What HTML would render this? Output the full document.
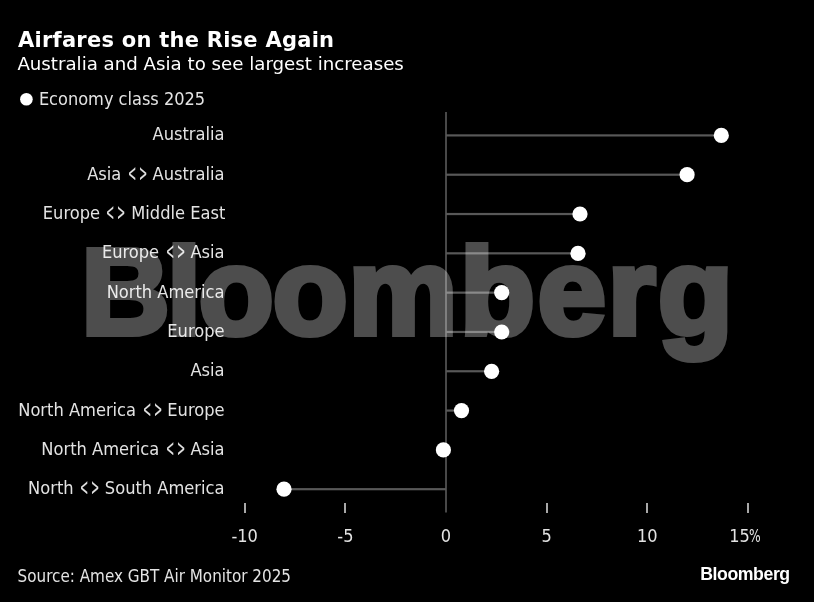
<!DOCTYPE html>
<html lang="en">
<head>
<meta charset="utf-8">
<title>Airfares on the Rise Again</title>
<style>
html,body{margin:0;padding:0;background:#000;}
body{width:814px;height:602px;overflow:hidden;}
#chart{position:relative;width:814px;height:602px;background:#000;overflow:hidden;
  font-family:"DejaVu Sans Condensed","DejaVu Sans","Liberation Sans",sans-serif;color:#e3e3e3;}
#chart svg{position:absolute;left:0;top:0;display:block;}
#chart div{position:absolute;white-space:pre;line-height:24px;height:24px;}
.t{font-family:"DejaVu Sans","Liberation Sans",sans-serif;font-weight:bold;font-size:21px;color:#fff;left:18px;top:27.5px;letter-spacing:.25px;}
.s{font-family:"DejaVu Sans","Liberation Sans",sans-serif;font-size:18.2px;color:#fff;left:17.4px;top:52.1px;letter-spacing:0;}
.lg{font-size:18px;left:38.9px;top:87.2px;}
.l{font-size:18.1px;right:589.5px;text-align:right;}
.c{display:inline-block;transform:translateY(1px) scale(.6,1.23);transform-origin:0 73%;letter-spacing:4.5px;margin-left:1.3px;margin-right:-16.7px;-webkit-text-stroke:.15px #e3e3e3;}
.k{font-size:18px;width:60px;text-align:center;top:523.5px;}
.p{display:inline-block;transform:scaleX(.76);transform-origin:0 50%;margin-left:-1.3px;margin-right:-3.7px;}
.src{font-size:16.9px;left:17.6px;top:564.3px;}
.bb{font-family:"Liberation Sans",sans-serif;font-weight:bold;font-size:17.7px;color:#fff;left:700.2px;top:562.1px;letter-spacing:-.42px;}
.wm{font-family:"Liberation Sans",sans-serif;font-weight:bold;fill:#fff;}
</style>
</head>
<body>
<div id="chart">
<svg width="814" height="602" viewBox="0 0 814 602">
<rect width="814" height="602" fill="#000"/>
<circle cx="26.4" cy="99.2" r="6.3" fill="#fff"/>
<rect x="445" y="112" width="2" height="400.5" fill="#484848"/>
<rect x="446.0" y="134.30" width="275.3" height="2.2" fill="#585858"/>
<rect x="446.0" y="173.61" width="241.1" height="2.2" fill="#585858"/>
<rect x="446.0" y="212.92" width="134.0" height="2.2" fill="#585858"/>
<rect x="446.0" y="252.23" width="132.0" height="2.2" fill="#585858"/>
<rect x="446.0" y="291.54" width="55.7" height="2.2" fill="#585858"/>
<rect x="446.0" y="330.85" width="55.7" height="2.2" fill="#585858"/>
<rect x="446.0" y="370.16" width="45.6" height="2.2" fill="#585858"/>
<rect x="446.0" y="409.47" width="15.5" height="2.2" fill="#585858"/>
<rect x="443.4" y="448.78" width="2.6" height="2.2" fill="#585858"/>
<rect x="284.0" y="488.09" width="162.0" height="2.2" fill="#585858"/>
<rect x="244" y="503" width="2" height="10" fill="#a8a8a8"/>
<rect x="344" y="503" width="2" height="10" fill="#a8a8a8"/>
<rect x="546" y="503" width="2" height="10" fill="#a8a8a8"/>
<rect x="646" y="503" width="2" height="10" fill="#a8a8a8"/>
<rect x="747" y="503" width="2" height="10" fill="#a8a8a8"/>
</svg>
<div class="t">Airfares on the Rise Again</div>
<div class="s">Australia and Asia to see largest increases</div>
<div class="lg">Economy class 2025</div>
<div class="l" style="top:122.3px">Australia</div>
<div class="l" style="top:161.6px">Asia <span class="c">&lt;&gt;</span> Australia</div>
<div class="l" style="top:200.9px;right:588.7px">Europe <span class="c">&lt;&gt;</span> Middle East</div>
<div class="l" style="top:240.2px">Europe <span class="c">&lt;&gt;</span> Asia</div>
<div class="l" style="top:279.5px">North America</div>
<div class="l" style="top:318.9px">Europe</div>
<div class="l" style="top:358.2px">Asia</div>
<div class="l" style="top:397.5px">North America <span class="c">&lt;&gt;</span> Europe</div>
<div class="l" style="top:436.8px">North America <span class="c">&lt;&gt;</span> Asia</div>
<div class="l" style="top:476.1px">North <span class="c">&lt;&gt;</span> South America</div>
<div class="k" style="left:214.7px">-10</div>
<div class="k" style="left:315.4px">-5</div>
<div class="k" style="left:416.0px">0</div>
<div class="k" style="left:516.6px">5</div>
<div class="k" style="left:617.3px">10</div>
<div class="k" style="left:714.8px">15<span class="p">%</span></div>
<div class="src">Source: Amex GBT Air Monitor 2025</div>
<div class="bb">Bloomberg</div>
<svg width="814" height="602" viewBox="0 0 814 602">
<g opacity=".3"><text class="wm" x="81.3 167.0 198.8 272.7 348.6 460.0 537.7 607.8 658.1" y="334.4" style="font-size:122.5px;stroke:#fff;stroke-width:6.0px;stroke-linejoin:miter">Bloomberg</text></g>
<circle cx="721.3" cy="135.4" r="7.6" fill="#fff"/>
<circle cx="687.1" cy="174.7" r="7.6" fill="#fff"/>
<circle cx="580.0" cy="214.0" r="7.6" fill="#fff"/>
<circle cx="578.0" cy="253.3" r="7.6" fill="#fff"/>
<circle cx="501.7" cy="292.6" r="7.6" fill="#fff"/>
<circle cx="501.7" cy="332.0" r="7.6" fill="#fff"/>
<circle cx="491.6" cy="371.3" r="7.6" fill="#fff"/>
<circle cx="461.5" cy="410.6" r="7.6" fill="#fff"/>
<circle cx="443.4" cy="449.9" r="7.6" fill="#fff"/>
<circle cx="284.0" cy="489.2" r="7.6" fill="#fff"/>
</svg>
</div>
</body>
</html>
